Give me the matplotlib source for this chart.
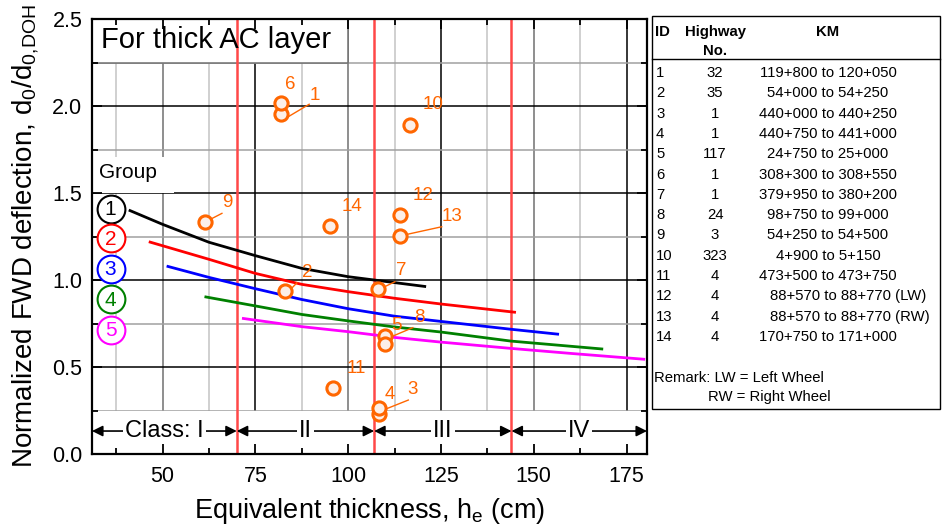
import matplotlib
matplotlib.use('Agg')
import matplotlib.pyplot as plt
from matplotlib.patches import Rectangle
from matplotlib.lines import Line2D
from matplotlib.ticker import MultipleLocator
import numpy as np

plt.rcParams['font.family'] = ['Liberation Sans', 'DejaVu Sans']
plt.rcParams['mathtext.fontset'] = 'custom'
plt.rcParams['mathtext.rm'] = 'Liberation Sans'
plt.rcParams['mathtext.it'] = 'Liberation Sans:italic'

# ---------------- data ----------------
point_ids = ['1', '2', '3', '4', '5', '6', '7', '8', '9', '10', '11', '12', '13', '14']
point_he = [81.8, 83.1, 108.3, 108.3, 110.0, 81.8, 108.1, 110.0, 61.4, 116.7, 95.9, 113.9, 113.9, 95.2]
point_d = [1.952, 0.939, 0.228, 0.262, 0.678, 2.019, 0.946, 0.630, 1.333, 1.893, 0.381, 1.372, 1.255, 1.310]

group_labels = ['1', '2', '3', '4', '5']
g1_he = [40.9, 50, 62.5, 75, 87.5, 100, 107, 121]
g1_d = [1.402, 1.320, 1.217, 1.140, 1.067, 1.019, 1.000, 0.962]
g2_he = [46.3, 50, 62.5, 75, 87.5, 100, 112.5, 125, 145.2]
g2_d = [1.220, 1.197, 1.119, 1.038, 0.975, 0.933, 0.895, 0.862, 0.814]
g3_he = [51.1, 62.5, 75, 87.5, 100, 112.5, 125, 143.8, 156.8]
g3_d = [1.080, 1.015, 0.950, 0.888, 0.835, 0.792, 0.762, 0.717, 0.688]
g4_he = [61.3, 75, 87.5, 100, 112.5, 125, 143.8, 168.7]
g4_d = [0.904, 0.851, 0.802, 0.765, 0.730, 0.701, 0.649, 0.603]
g5_he = [71.4, 87.5, 100, 112.5, 125, 143.8, 160, 180]
g5_d = [0.780, 0.732, 0.703, 0.670, 0.643, 0.607, 0.578, 0.544]

class_bounds = [70, 107, 144]
class_labels = ['Class: I', 'II', 'III', 'IV']

table_ids = ['1', '2', '3', '4', '5', '6', '7', '8', '9', '10', '11', '12', '13', '14']
table_highway = ['32', '35', '1', '1', '117', '1', '1', '24', '3', '323', '4', '4', '4', '4']
table_km = ['119+800 to 120+050', '54+000 to 54+250', '440+000 to 440+250',
            '440+750 to 441+000', '24+750 to 25+000', '308+300 to 308+550',
            '379+950 to 380+200', '98+750 to 99+000', '54+250 to 54+500',
            '4+900 to 5+150', '473+500 to 473+750', '88+570 to 88+770 (LW)',
            '88+570 to 88+770 (RW)', '170+750 to 171+000']

# ---------------- styling / layout ----------------
W, H = 943, 528
fig = plt.figure(figsize=(W / 100, H / 100), dpi=100)
ax = fig.add_axes([92 / W, 1 - 454 / H, (647 - 92) / W, (454 - 19) / H])
XMIN, XMAX = 31, 180.5
ax.set_xlim(XMIN, XMAX)
ax.set_ylim(0, 2.5)

# grid
for x in np.arange(37.5, XMAX, 12.5):
    if x % 25 != 0:
        c = '#c4c4c4'
    elif (x / 25) % 2 == 0:
        c = '#707070'
    else:
        c = 'black'
    ax.axvline(x, color=c, lw=1.1, zorder=1)
for y in np.arange(0.25, 2.5, 0.25):
    c = 'black' if abs(y / 0.5 - round(y / 0.5)) < 1e-6 else '#a0a0a0'
    ax.axhline(y, color=c, lw=1.1, zorder=1)

# white masks
ax.add_patch(Rectangle((XMIN, 0), XMAX - XMIN, 0.245, fc='white', ec='none', zorder=1.2))
ax.add_patch(Rectangle((XMIN, 2.25), 100 - XMIN, 0.25, fc='white', ec='#707070', lw=1.1, zorder=1.2))
ax.add_patch(Rectangle((XMIN, 1.5), 22, 0.207, fc='white', ec='none', zorder=1.2))

# class boundaries
for b in class_bounds:
    ax.axvline(b, color='#ff4848', lw=1.8, zorder=2)

# curves
curve_colors = ['black', '#ff0000', '#0000ff', '#008000', '#ff00ff']
curves = [(g1_he, g1_d), (g2_he, g2_d), (g3_he, g3_d), (g4_he, g4_d), (g5_he, g5_d)]
for (xs, ys), c in zip(curves, curve_colors):
    ax.plot(xs, ys, color=c, lw=2.0, zorder=3, solid_capstyle='butt')

# points
orange = '#ff6600'
ax.plot(point_he, point_d, 'o', ms=9.5, mfc='#fcefe8', mec=orange, mew=2.2, ls='none', zorder=5)

label_pos = {
    '1': (90.9, 2.063), '2': (89.0, 1.044), '3': (117.4, 0.368), '4': (111.1, 0.343),
    '5': (113.1, 0.741), '6': (84.5, 2.121), '7': (114.2, 1.053), '8': (119.1, 0.786),
    '9': (67.4, 1.444), '10': (122.8, 2.010), '11': (102.2, 0.493), '12': (120.1, 1.484),
    '13': (128.1, 1.364), '14': (101.1, 1.420),
}
for pid in point_ids:
    lx, ly = label_pos[pid]
    ax.text(lx, ly, pid, color=orange, fontsize=13.5, ha='center', va='center', zorder=6)

leaders = {
    '1': ((83.6, 1.935), (89.5, 2.010)),
    '9': ((63.0, 1.350), (66.0, 1.383)),
    '13': ((115.8, 1.262), (125.2, 1.306)),
    '2': ((84.9, 0.955), (86.2, 0.984)),
    '7': ((109.9, 0.962), (112.6, 0.990)),
    '8': ((111.3, 0.671), (117.4, 0.726)),
    '3': ((109.5, 0.253), (116.2, 0.310)),
}
for pid, (p0, p1) in leaders.items():
    ax.plot([p0[0], p1[0]], [p0[1], p1[1]], color=orange, lw=1.0, zorder=4)

# group legend
group_y = [1.41, 1.24, 1.065, 0.89, 0.715]
for lab, gy, c in zip(group_labels, group_y, curve_colors):
    ax.scatter([36.0], [gy], s=400, facecolor='white', edgecolor=c, lw=1.5, zorder=6, clip_on=False)
    ax.text(36.0, gy - 0.005, lab, color=c, fontsize=15, ha='center', va='center', zorder=7)
ax.text(32.8, 1.615, 'Group', fontsize=15, ha='left', va='center', zorder=7)

# title
ax.text(33.3, 2.379, 'For thick AC layer', fontsize=21, ha='left', va='center', zorder=7)

# class arrows
edges = [XMIN] + class_bounds + [XMAX]
for i, lab in enumerate(class_labels):
    x0, x1 = edges[i], edges[i + 1]
    ax.annotate('', xy=(x1, 0.132), xytext=(x0, 0.132),
                arrowprops=dict(arrowstyle='<|-|>', color='black', lw=1.2,
                                mutation_scale=16, shrinkA=0, shrinkB=0), zorder=4)
    ax.text((x0 + x1) / 2, 0.132, lab, fontsize=17, ha='center', va='center', zorder=5,
            bbox=dict(fc='white', ec='none', pad=1.5))

# axes ticks/labels
ax.xaxis.set_major_locator(MultipleLocator(25))
ax.xaxis.set_minor_locator(MultipleLocator(12.5))
ax.yaxis.set_major_locator(MultipleLocator(0.5))
ax.yaxis.set_minor_locator(MultipleLocator(0.25))
ax.tick_params(which='both', direction='in', top=True, right=True, labelsize=15.5, width=1.3)
ax.tick_params(axis='x', which='major', pad=9)
ax.tick_params(axis='y', which='major', pad=7)
ax.tick_params(which='major', length=7)
ax.tick_params(which='minor', length=4)
ax.yaxis.set_major_formatter(plt.FuncFormatter(lambda v, p: f'{v:.1f}'))
for s in ax.spines.values():
    s.set_linewidth(1.6)
    s.set_zorder(10)
ax.set_xlabel('Equivalent thickness, h$_\\mathrm{e}$ (cm)', fontsize=19.5, labelpad=6)
ax.set_ylabel('Normalized FWD deflection, d$_\\mathrm{0}$/d$_\\mathrm{0{,}DOH}$', fontsize=20, labelpad=8)

# ---------------- table ----------------
def fx(px):
    return px / W

def fy(py):
    return 1 - py / H

fig.add_artist(Rectangle((fx(652), fy(409)), (940 - 652) / W, (409 - 16) / H,
                         transform=fig.transFigure, fill=False, ec='black', lw=1.0))
fig.add_artist(Line2D([fx(652), fx(940)], [fy(59), fy(59)], transform=fig.transFigure,
                      color='black', lw=1.0))
tfs = 10.7
fig.text(fx(655), fy(32), 'ID', fontsize=tfs, fontweight='bold', ha='left', va='center')
fig.text(fx(715), fy(32), 'Highway', fontsize=tfs, fontweight='bold', ha='center', va='center')
fig.text(fx(715), fy(51), 'No.', fontsize=tfs, fontweight='bold', ha='center', va='center')
fig.text(fx(828), fy(32), 'KM', fontsize=tfs, fontweight='bold', ha='center', va='center')
for i, (tid, hw, km) in enumerate(zip(table_ids, table_highway, table_km)):
    yy = fy(73 + 20.3 * i)
    fig.text(fx(656), yy, tid, fontsize=tfs, ha='left', va='center')
    fig.text(fx(715), yy, hw, fontsize=tfs, ha='center', va='center')
    if '(' in km:
        fig.text(fx(770), yy, km, fontsize=tfs, ha='left', va='center')
    else:
        fig.text(fx(828), yy, km, fontsize=tfs, ha='center', va='center')
fig.text(fx(654), fy(378), 'Remark: LW = Left Wheel', fontsize=tfs, ha='left', va='center')
fig.text(fx(708), fy(397), 'RW = Right Wheel', fontsize=tfs, ha='left', va='center')

fig.savefig('out.png', dpi=100)
